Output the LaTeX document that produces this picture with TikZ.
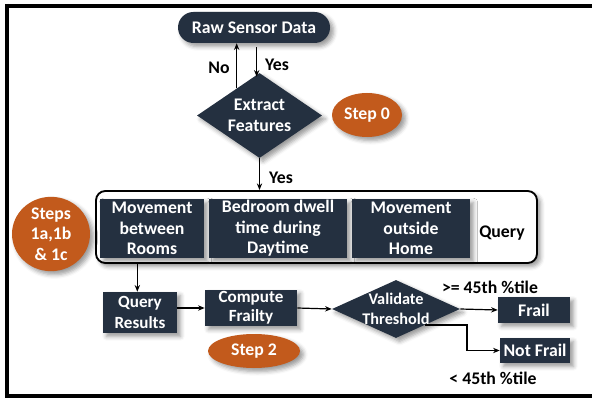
\documentclass[tikz,border=0pt]{standalone}
\usepackage{fontspec}
\setmainfont{Carlito}
\usetikzlibrary{shapes.geometric,shadows.blur,arrows.meta,calc}
\definecolor{navy}{HTML}{243040}
\definecolor{rust}{HTML}{C25A1C}
\tikzset{
  every node/.style={font=\fontsize{13.3}{15.3}\selectfont\bfseries, align=center},
  soft/.style={blur shadow={shadow xshift=2.6pt, shadow yshift=-2.6pt, shadow blur radius=3.2pt, shadow opacity=40}},
  block/.style={rectangle, fill=navy, text=white, inner sep=0pt, soft},
  pill/.style={block, rounded corners=11.6pt},
  decision/.style={diamond, fill=navy, inner sep=0pt, soft},
  inside/.style={text=white},
  badge/.style={ellipse, fill=rust, text=white, inner sep=0pt, soft},
  arr/.style={-{Stealth[length=5pt,width=4pt]}, line width=0.9pt},
  lbl/.style={text=black},
}
\begin{document}
\begin{tikzpicture}[x=0.75pt,y=-0.75pt]
\useasboundingbox (0,0) rectangle (592,399);
% frame (top, left and bottom edges)
\draw[line width=3pt] (5,6) -- (592,6);
\draw[line width=3pt] (7,4) -- (7,397);
\draw[line width=3pt] (5,395.5) -- (592,395.5);

% top: data source and feature extraction
\node[pill, minimum width=114pt, minimum height=23.25pt] (raw) at (254,27.5) {Raw Sensor Data};
\node[decision, minimum width=93.75pt, minimum height=63.75pt] (extract) at (259.5,115.5) {};
\node[inside] (extractText) at (extract.center) {Extract\\Features};
\node[badge, minimum width=52.5pt, minimum height=33pt] (step0) at (367,115) {Step 0};

% query group
\node[rectangle, draw=black, line width=1.4pt, rounded corners=7pt, fill=white, soft,
      minimum width=330.75pt, minimum height=54pt] (group) at (316.5,227) {};
\node[block, minimum width=78pt, minimum height=44.25pt] (m1) at (152,228.5) {Movement\\between\\Rooms};
\node[block, minimum width=103.5pt, minimum height=44.25pt] (m2) at (278,228.5) {Bedroom dwell\\time during\\Daytime};
\node[block, minimum width=88.5pt, minimum height=44.25pt] (m3) at (411,228.5) {Movement\\outside\\Home};
\node[lbl] (query) at (502,233) {Query};
\node[badge, minimum width=58.5pt, minimum height=46.5pt] (steps1) at (51,234) {Steps\\1a,1b\\\& 1c};

% results and classification
\node[block, minimum width=55.5pt, minimum height=30.75pt, font=\fontsize{12.8}{15.3}\selectfont\bfseries] (qr) at (140,312.5) {Query\\Results};
\node[block, minimum width=69pt, minimum height=27pt, font=\fontsize{12.8}{14.6}\selectfont\bfseries] (cf) at (251,308) {Compute\\Frailty};
\node[badge, minimum width=69pt, minimum height=25.5pt] (step2) at (254,351) {Step 2};
\node[decision, minimum width=96pt, minimum height=43.5pt] (vt) at (396,309) {};
\node[inside, font=\fontsize{12.2}{14.5}\selectfont\bfseries] (vtText) at (vt.center) {Validate\\Threshold};
\node[block, minimum width=54pt, minimum height=19.5pt] (frail) at (534,310) {Frail};
\node[block, minimum width=52.5pt, minimum height=18.75pt] (notfrail) at (535,350.5) {Not Frail};

% connectors
\draw[arr] (extract.130) -- (extract.130 |- raw.south);
\node[lbl] (no) at (219,68) {No};
\draw[arr] ([xshift=2pt,yshift=-3pt]raw.south) -- ([xshift=2pt,yshift=-3pt]raw.south |- extract.north);
\node[lbl] (yes1) at (277,65) {Yes};
\draw[arr] (extract.south) -- (extract.south |- group.north);
\node[lbl] (yes2) at (281,178) {Yes};
\draw[arr] ([xshift=-2pt]group.south -| qr.north) -- ([xshift=-2pt]qr.north);
\draw[arr] (cf.west -| qr.east) -- (cf.west);
\draw[arr] (cf.east) -- (vt.west);
\draw[arr] (vt.east) -- (frail.west);
\coordinate (bend) at (467,0);
\draw[arr] (vt.-29) -- (vt.-29 -| bend) |- (notfrail.west);
\node[lbl] (hi) at (490,287) {>= 45th \%tile};
\node[lbl] (lo) at (493,378) {< 45th \%tile};
\end{tikzpicture}
\end{document}
